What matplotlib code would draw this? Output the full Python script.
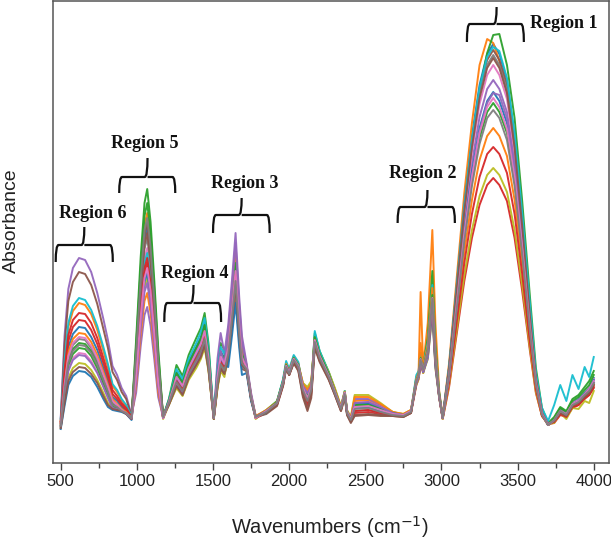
import numpy as np
import matplotlib
matplotlib.use('Agg')
import matplotlib.pyplot as plt
from matplotlib.path import Path
from matplotlib.patches import PathPatch

plt.rcParams['font.family'] = ['Liberation Sans', 'DejaVu Sans']

# wavenumber grid (cm-1) and absorbance (x1000)
wn = [500, 525, 550, 580, 620, 660, 700, 740, 780, 810, 840, 870, 900, 930, 965,
      995, 1025, 1050, 1068, 1090, 1115, 1140, 1172,
      1210, 1260, 1300, 1340, 1390, 1420, 1445, 1470, 1505, 1530, 1550, 1575, 1600,
      1625, 1648, 1672, 1690, 1720, 1750, 1780,
      1850, 1920, 1960, 1980, 2000, 2030, 2060, 2090, 2120, 2145, 2168, 2200,
      2260, 2300, 2340, 2365, 2380, 2405, 2430, 2520, 2600, 2680, 2750, 2800,
      2835, 2850, 2863, 2880, 2910, 2940, 2960, 2985, 3008,
      3050, 3100, 3150, 3200, 3250, 3300, 3340, 3380, 3430, 3480, 3530, 3580, 3620, 3660, 3700,
      3740, 3780, 3820, 3860, 3900, 3940, 3970, 4000]

s00 = [40, 84, 116, 129, 136, 135, 126, 113, 95, 82, 66, 62, 56, 52, 46,
       106, 176, 223, 235, 207, 155, 99, 46,
       62, 91, 81, 101, 116, 126, 140, 112, 45, 91, 112, 105, 123,
       164, 205, 148, 113, 96, 66, 46,
       52, 61, 82, 97, 90, 104, 97, 74, 64, 74, 124, 107, 87, 70, 54, 69, 50, 44, 55, 56, 52, 49, 48, 52,
       82, 88, 105, 94, 115, 170, 105, 68, 45,
       96, 178, 260, 327, 378, 409, 419, 409, 383, 327, 245, 153, 86, 50, 38,
       44, 54, 50, 60, 64, 70, 75, 85]
s01 = [42, 99, 136, 152, 160, 158, 149, 133, 112, 96, 77, 71, 63, 57, 47,
       112, 188, 238, 250, 220, 165, 105, 47,
       60, 81, 73, 90, 104, 113, 125, 100, 46, 81, 100, 94, 129,
       172, 215, 155, 118, 98, 68, 47,
       51, 60, 80, 100, 93, 107, 100, 78, 70, 78, 128, 110, 90, 73, 56, 72, 52, 45, 62, 63, 57, 50, 49, 53,
       85, 92, 171, 96, 140, 233, 140, 72, 46,
       100, 185, 270, 340, 398, 424, 420, 402, 370, 310, 228, 140, 78, 48, 38,
       42, 50, 48, 58, 60, 68, 72, 80]
s02 = [38, 74, 102, 114, 120, 119, 112, 100, 84, 72, 59, 56, 52, 50, 45,
       123, 206, 260, 274, 241, 181, 115, 46,
       64, 98, 87, 108, 125, 135, 150, 120, 44, 98, 120, 113, 108,
       144, 180, 130, 99, 94, 64, 46,
       53, 62, 83, 99, 91, 106, 99, 76, 67, 76, 130, 112, 91, 74, 56, 70, 51, 44, 58, 59, 54, 50, 48, 51,
       86, 90, 110, 97, 125, 192, 118, 70, 45,
       92, 170, 250, 318, 372, 410, 428, 429, 398, 345, 262, 168, 95, 55, 40,
       46, 56, 52, 64, 68, 76, 82, 92]
s03 = [40, 89, 122, 136, 143, 142, 133, 119, 100, 86, 69, 64, 58, 53, 46,
       90, 150, 190, 200, 176, 132, 84, 45,
       60, 78, 70, 86, 100, 108, 120, 96, 45, 78, 96, 90, 114,
       152, 190, 137, 105, 95, 65, 45,
       50, 58, 78, 95, 88, 101, 94, 70, 58, 70, 118, 103, 84, 69, 53, 68, 50, 43, 50, 51, 49, 48, 47, 50,
       78, 84, 100, 90, 108, 160, 100, 66, 44,
       76, 129, 182, 225, 258, 278, 285, 278, 262, 225, 172, 113, 70, 47, 39,
       40, 48, 46, 55, 58, 64, 68, 75]
s04 = [45, 127, 174, 195, 205, 203, 191, 170, 144, 123, 97, 88, 75, 67, 48,
       70, 117, 148, 156, 137, 103, 66, 46,
       62, 88, 78, 97, 112, 122, 135, 108, 46, 105, 130, 110, 138,
       184, 230, 166, 127, 100, 70, 47,
       52, 60, 81, 98, 92, 105, 98, 80, 74, 80, 122, 106, 88, 72, 55, 71, 51, 44, 64, 64, 58, 51, 48, 52,
       80, 86, 100, 92, 104, 150, 96, 66, 45,
       91, 165, 239, 300, 346, 374, 383, 374, 351, 300, 225, 142, 82, 49, 38,
       43, 52, 49, 59, 62, 69, 74, 82]
s05 = [42, 118, 162, 181, 191, 189, 178, 159, 134, 115, 91, 83, 71, 64, 47,
       108, 180, 228, 240, 211, 158, 101, 47,
       58, 77, 68, 85, 98, 106, 118, 94, 44, 77, 94, 89, 102,
       136, 170, 122, 94, 92, 63, 46,
       49, 57, 77, 94, 88, 100, 92, 66, 52, 65, 115, 101, 83, 68, 52, 66, 48, 40, 47, 48, 47, 47, 46, 50,
       84, 88, 105, 95, 116, 172, 108, 68, 45,
       95, 176, 257, 322, 373, 403, 413, 403, 378, 322, 242, 151, 85, 50, 38,
       42, 50, 47, 57, 60, 66, 70, 78]
s06 = [36, 68, 94, 105, 110, 109, 102, 91, 77, 66, 55, 55, 52, 50, 44,
       97, 161, 204, 215, 189, 142, 90, 45,
       60, 83, 74, 92, 106, 115, 128, 102, 45, 83, 102, 96, 117,
       156, 195, 140, 107, 96, 66, 45,
       52, 60, 80, 97, 90, 104, 97, 75, 66, 75, 124, 107, 88, 71, 55, 70, 51, 44, 60, 61, 56, 50, 48, 52,
       80, 85, 100, 92, 108, 158, 100, 66, 44,
       93, 171, 248, 311, 359, 388, 398, 388, 364, 311, 234, 146, 84, 50, 38,
       44, 53, 50, 60, 63, 70, 75, 84]
s07 = [38, 77, 105, 118, 124, 123, 115, 103, 87, 74, 61, 57, 53, 50, 45,
       101, 169, 214, 225, 198, 149, 95, 46,
       60, 79, 71, 88, 101, 110, 122, 98, 46, 79, 98, 92, 105,
       140, 175, 126, 96, 93, 64, 46,
       51, 59, 79, 96, 89, 102, 95, 72, 60, 72, 120, 104, 85, 70, 54, 69, 50, 43, 52, 53, 50, 48, 47, 51,
       82, 87, 105, 93, 110, 162, 102, 67, 45,
       95, 174, 254, 319, 368, 398, 408, 398, 373, 319, 239, 149, 85, 50, 38,
       43, 52, 48, 58, 61, 68, 72, 80]
s08 = [35, 62, 85, 95, 100, 99, 93, 83, 70, 60, 55, 55, 52, 50, 44,
       83, 139, 176, 185, 163, 122, 78, 44,
       58, 75, 67, 83, 95, 104, 115, 92, 44, 75, 92, 86, 111,
       148, 185, 133, 102, 94, 65, 44,
       53, 61, 81, 98, 91, 105, 99, 80, 76, 82, 126, 110, 91, 75, 57, 72, 53, 46, 68, 68, 60, 51, 49, 53,
       78, 84, 100, 90, 104, 150, 95, 65, 44,
       78, 133, 188, 233, 267, 288, 295, 288, 271, 233, 178, 116, 71, 47, 39,
       40, 50, 44, 55, 54, 62, 60, 72]
s09 = [44, 102, 140, 157, 165, 163, 153, 137, 116, 99, 79, 73, 64, 58, 47,
       95, 158, 200, 210, 185, 139, 88, 46,
       63, 94, 84, 104, 120, 131, 145, 116, 46, 94, 116, 109, 123,
       164, 205, 148, 113, 97, 67, 46,
       50, 61, 84, 102, 94, 108, 101, 74, 60, 74, 132, 112, 90, 72, 55, 72, 52, 45, 56, 57, 53, 49, 48, 52,
       88, 92, 110, 98, 120, 178, 112, 70, 46,
       96, 177, 258, 324, 375, 406, 416, 412, 385, 330, 250, 160, 90, 55, 42,
       58, 78, 62, 88, 74, 96, 86, 106]
s10 = [34, 57, 78, 87, 92, 91, 86, 76, 64, 56, 53, 52, 51, 49, 43,
       86, 143, 181, 190, 167, 125, 80, 45,
       61, 85, 75, 94, 108, 117, 130, 104, 45, 85, 104, 98, 96,
       128, 160, 115, 88, 90, 62, 45,
       52, 60, 80, 97, 90, 103, 96, 76, 68, 76, 121, 105, 87, 71, 55, 69, 51, 44, 60, 60, 55, 50, 48, 52,
       80, 86, 102, 91, 106, 155, 98, 66, 45,
       89, 161, 232, 291, 335, 362, 371, 362, 340, 291, 219, 138, 80, 49, 38,
       43, 52, 49, 59, 62, 70, 74, 83]
s11 = [39, 81, 111, 124, 130, 129, 121, 108, 91, 78, 64, 59, 54, 51, 46,
       77, 128, 162, 170, 150, 112, 71, 46,
       60, 81, 73, 90, 104, 113, 125, 100, 46, 81, 100, 94, 126,
       168, 210, 151, 116, 97, 67, 47,
       53, 61, 81, 99, 92, 105, 98, 79, 73, 79, 125, 108, 89, 73, 56, 71, 52, 45, 66, 66, 59, 51, 49, 53,
       84, 90, 120, 96, 118, 175, 110, 69, 46,
       84, 148, 211, 263, 303, 327, 335, 327, 307, 263, 199, 128, 76, 48, 38,
       42, 50, 47, 57, 60, 66, 70, 78]
s12 = [37, 71, 98, 109, 115, 114, 107, 95, 80, 69, 57, 55, 52, 50, 45,
       117, 195, 247, 260, 229, 172, 109, 46,
       62, 90, 80, 99, 115, 124, 138, 110, 45, 90, 110, 104, 120,
       160, 200, 144, 110, 96, 66, 46,
       52, 61, 82, 98, 91, 105, 98, 76, 66, 76, 126, 109, 89, 72, 55, 70, 51, 44, 58, 58, 54, 50, 48, 52,
       82, 88, 105, 94, 114, 168, 104, 68, 45,
       88, 157, 226, 282, 325, 351, 360, 351, 330, 282, 213, 135, 79, 49, 38,
       45, 55, 51, 62, 66, 73, 78, 88]
s13 = [41, 93, 128, 143, 150, 149, 140, 125, 105, 90, 73, 67, 60, 55, 46,
       92, 154, 195, 205, 180, 135, 86, 45,
       60, 82, 73, 91, 105, 113, 126, 101, 45, 82, 101, 95, 113,
       150, 188, 135, 103, 95, 65, 45,
       51, 59, 79, 96, 89, 102, 95, 72, 60, 72, 120, 104, 85, 70, 54, 69, 50, 43, 52, 53, 50, 48, 47, 51,
       80, 86, 100, 92, 110, 162, 102, 66, 45,
       81, 141, 200, 249, 286, 309, 316, 309, 290, 249, 189, 122, 74, 47, 39,
       41, 49, 46, 56, 58, 65, 68, 76]
s14 = [36, 67, 92, 103, 108, 107, 100, 90, 76, 65, 55, 54, 52, 50, 44,
       81, 135, 171, 180, 158, 119, 76, 45,
       60, 78, 70, 86, 100, 108, 120, 96, 45, 90, 112, 100, 132,
       176, 220, 158, 121, 98, 68, 46,
       52, 60, 80, 97, 91, 104, 97, 77, 70, 77, 122, 106, 87, 71, 55, 70, 51, 44, 60, 61, 56, 50, 48, 52,
       80, 86, 100, 91, 106, 155, 98, 66, 45,
       86, 156, 226, 286, 332, 360, 370, 368, 345, 298, 226, 143, 83, 50, 39,
       42, 51, 48, 58, 61, 68, 72, 80]
s15 = [35, 60, 82, 91, 96, 95, 89, 80, 67, 58, 54, 53, 52, 49, 44,
       104, 173, 219, 230, 202, 152, 97, 46,
       58, 77, 68, 85, 98, 106, 118, 94, 44, 77, 94, 89, 107,
       142, 178, 128, 98, 93, 64, 46,
       50, 58, 78, 95, 88, 100, 93, 68, 54, 68, 116, 102, 84, 68, 52, 66, 48, 41, 48, 49, 48, 47, 46, 50,
       82, 87, 102, 93, 110, 160, 101, 67, 45,
       94, 173, 252, 316, 365, 395, 405, 395, 370, 316, 237, 148, 84, 50, 38,
       42, 50, 47, 57, 60, 66, 70, 78]
s16 = [38, 78, 107, 120, 126, 125, 117, 105, 88, 76, 62, 58, 53, 50, 45,
       88, 146, 185, 195, 172, 129, 82, 45,
       61, 86, 77, 95, 110, 119, 132, 106, 45, 86, 106, 99, 115,
       154, 192, 138, 106, 95, 66, 45,
       52, 60, 81, 97, 90, 104, 97, 75, 65, 75, 123, 107, 87, 71, 55, 70, 51, 44, 56, 57, 53, 49, 48, 52,
       82, 87, 104, 93, 112, 165, 104, 67, 45,
       88, 159, 229, 286, 330, 356, 365, 356, 334, 286, 216, 137, 80, 49, 38,
       43, 52, 49, 59, 62, 69, 74, 82]
s17 = [37, 73, 100, 112, 118, 117, 110, 98, 83, 71, 58, 56, 52, 50, 45,
       110, 184, 233, 245, 216, 162, 103, 46,
       60, 81, 72, 89, 103, 112, 124, 99, 45, 81, 99, 93, 109,
       146, 182, 131, 100, 94, 65, 46,
       51, 60, 80, 96, 89, 103, 96, 73, 62, 73, 121, 105, 86, 70, 54, 69, 50, 43, 54, 55, 51, 48, 47, 51,
       82, 87, 103, 93, 111, 164, 103, 67, 45,
       87, 154, 222, 277, 319, 345, 353, 345, 323, 277, 209, 133, 78, 48, 38,
       43, 52, 48, 58, 61, 68, 72, 80]

spectra = [s00, s01, s02, s03, s04, s05, s06, s07, s08, s09,
           s10, s11, s12, s13, s14, s15, s16, s17]

# region brackets: left, right, middle, level, drop, tip (data units) + label pos
regions = [
    ('Region 1', 3167, 3541, 3362, 0.439, 0.018, 0.017, 3800, 0.439),
    ('Region 2', 2712, 3088, 2908, 0.256, 0.016, 0.017, 2877, 0.290),
    ('Region 3', 1500, 1872, 1688, 0.248, 0.018, 0.017, 1706, 0.280),
    ('Region 4', 1180, 1553, 1372, 0.160, 0.019, 0.018, 1377, 0.190),
    ('Region 5', 884, 1252, 1070, 0.286, 0.016, 0.019, 1051, 0.320),
    ('Region 6', 467, 842, 655, 0.218, 0.017, 0.018, 709, 0.250),
]

fig = plt.figure(figsize=(6.11, 5.45), dpi=100)
ax = fig.add_axes([52.5 / 611, 1 - 463 / 545, (609 - 52.5) / 611, 462 / 545])

x = np.array(wn)
for i, s in enumerate(spectra):
    ax.plot(x, np.array(s) / 1000, lw=1.4, color='C%d' % (i % 10), alpha=0.95)

ax.set_xlim(446, 4100)
ax.set_ylim(0, 0.462)
ax.set_yticks([])
ax.set_xticks(range(500, 4001, 500))
ax.set_xticks(range(750, 4000, 500), minor=True)
ax.tick_params(axis='x', which='major', direction='out', length=5, width=1, labelsize=12,
               color='#444444', labelcolor='#222222', pad=3)
ax.tick_params(axis='x', which='minor', direction='out', length=3.5, width=1, color='#444444')
for sp in ax.spines.values():
    sp.set_color('#555555')
    sp.set_linewidth(1.1)

for name, x0, x1, xm, yl, drop, tip, lx, ly in regions:
    dx = (x1 - x0) * 0.05
    verts = [(x0, yl - drop), (x0, yl), (x0 + dx, yl),
             (xm - dx, yl), (xm, yl), (xm, yl + tip),
             (xm, yl), (xm + dx, yl),
             (x1 - dx, yl), (x1, yl), (x1, yl - drop)]
    codes = [Path.MOVETO, Path.CURVE3, Path.CURVE3,
             Path.LINETO, Path.CURVE3, Path.CURVE3,
             Path.MOVETO, Path.LINETO,
             Path.LINETO, Path.CURVE3, Path.CURVE3]
    ax.add_patch(PathPatch(Path(verts, codes), fill=False, lw=1.6, ec='#111111', clip_on=False))
    ax.text(lx, ly, name, ha='center', va='center', fontsize=13, fontweight='bold',
            family=['Liberation Serif', 'DejaVu Serif'], color='#111111')

fig.text(330 / 611, 1 - 527 / 545, 'Wavenumbers (cm$^{-1}$)', ha='center', va='center',
         fontsize=14.5, color='#222222')
fig.text(11 / 611, 1 - 221 / 545, 'Absorbance', rotation=90, ha='center', va='center',
         fontsize=14, color='#222222')

fig.savefig('out.png', dpi=100)
